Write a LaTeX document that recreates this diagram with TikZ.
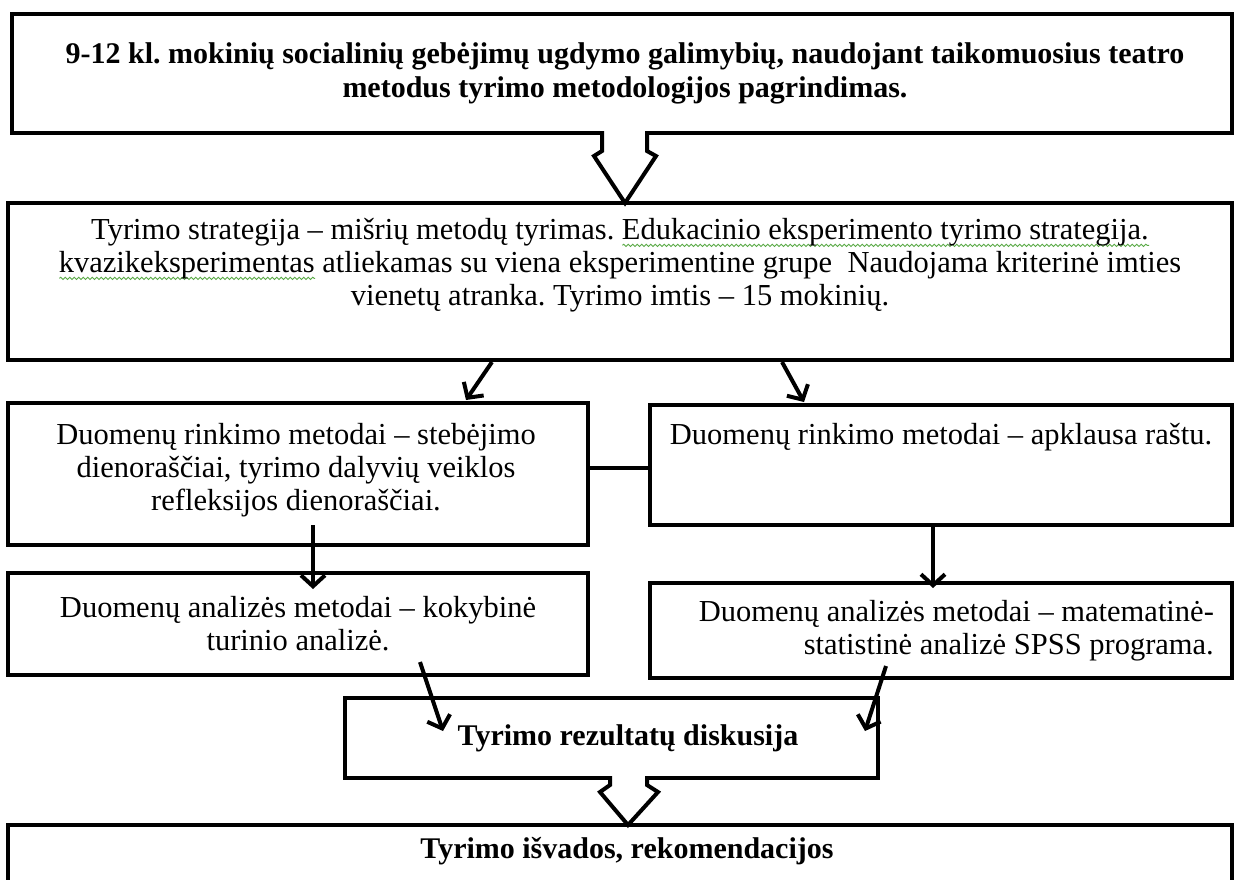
\documentclass[tikz,border=0pt]{standalone}
\usepackage{fontspec}
\setmainfont{Liberation Serif}
\usetikzlibrary{arrows.meta,calc,decorations.pathmorphing}

\definecolor{spellgreen}{RGB}{90,170,70}
\tikzset{
  box/.style={draw, line width=4pt, inner sep=0pt, outer sep=0pt, anchor=north west, fill=white},
  txt/.style={font=\fontsize{30.5}{33}\selectfont, align=center, inner sep=0pt},
  btxt/.style={txt, font=\fontsize{30}{34}\selectfont\bfseries},
  arr/.style={line width=4pt, -{Straight Barb[length=11pt,width=24pt,line width=4pt]}},
  link/.style={line width=4pt},
  blockarrow/.style={line width=4pt, line join=miter},
  spellwave/.style={decorate, decoration={snake, amplitude=1.1pt, segment length=4.5pt}, draw=spellgreen, line width=0.9pt}
}

% wavy green underline drawn under a phrase
\newsavebox\spellbox
\newlength\spellwd
\newcommand\spellmark[1]{\sbox\spellbox{#1}\setlength\spellwd{\wd\spellbox}%
  \rlap{\tikz[baseline=0pt]\draw[spellwave] (0pt,-6pt) -- (\spellwd,-6pt);}#1}

\frenchspacing
\begin{document}
\begin{tikzpicture}[x=1pt, y=-1pt]
  \fill[white] (0,0) rectangle (1238,879);
  \useasboundingbox (0,0) rectangle (1238,879);
  \clip (0,0) rectangle (1238,879);

  % boxes
  \node[box, minimum width=1220pt, minimum height=119pt] (b1) at (12,14) {};
  \node[box, minimum width=1224pt, minimum height=157pt] (b2) at (8,203) {};
  \node[box, minimum width=580pt, minimum height=142pt] (b3l) at (8,403) {};
  \node[box, minimum width=582pt, minimum height=120pt] (b3r) at (650,405) {};
  \node[box, minimum width=580pt, minimum height=102pt] (b4l) at (8,573) {};
  \node[box, minimum width=582pt, minimum height=95pt] (b4r) at (650,583) {};
  \node[box, minimum width=533pt, minimum height=80pt] (b5) at (345,698) {};
  \node[box, minimum width=1224pt, minimum height=100pt] (b6) at (8,825) {};

  % texts
  \node[btxt] (t1) at (625,73) {9-12 kl. mokinių socialinių gebėjimų ugdymo galimybių, naudojant taikomuosius teatro\\metodus tyrimo metodologijos pagrindimas.};
  \node[txt] (t2) at (620,265) {Tyrimo strategija – mišrių metodų tyrimas. \spellmark{Edukacinio eksperimento tyrimo strategija.}\\\spellmark{kvazikeksperimentas} atliekamas su viena eksperimentine grupe\ \ Naudojama kriterinė imties\\vienetų atranka. Tyrimo imtis – 15 mokinių.};
  \node[txt] (t3l) at (296,470) {Duomenų rinkimo metodai – stebėjimo\\dienoraščiai, tyrimo dalyvių veiklos\\refleksijos dienoraščiai.};
  \node[txt] (t3r) at (941,437) {Duomenų rinkimo metodai – apklausa raštu.};
  \node[txt] (t4l) at (298,624) {Duomenų analizės metodai – kokybinė\\turinio analizė.};
  \node[txt, align=right, anchor=east] (t4r) at (1214,631) {Duomenų analizės metodai – matematinė-\\statistinė analizė SPSS programa.};
  \node[btxt] (t5) at (628,738) {Tyrimo rezultatų diskusija};
  \node[btxt] (t6) at (627,851) {Tyrimo išvados, rekomendacijos};

  % link between the two collection boxes
  \draw[link] ($(b3l.north east)+(0,65)$) coordinate (m) -- (m -| b3r.west);

  % arrows
  \draw[arr] ($(b2.south west)+(484,2)$) -- ($(b3l.north west)+(458,-3)$);
  \draw[arr] ($(b2.south west)+(774,2)$) -- ($(b3r.north west)+(154,-3)$);
  \draw[arr] ($(b3l.south west)+(305,-20)$) -- ($(b4l.north west)+(305,16)$);
  \draw[arr] ($(b3r.south west)+(283,0)$) -- ($(b4r.north west)+(283,5)$);
  \draw[arr] ($(b4l.south west)+(412,-13)$) -- ($(b5.north west)+(98,33)$);
  \draw[arr] ($(b4r.south west)+(236,-12)$) -- ($(b5.north west)+(520,33)$);

  % block arrow from the top box
  \fill[white] (602,131) -- (602,151) -- (594,156) -- (625,203) -- (656,156) -- (647,151) -- (647,131) -- cycle;
  \draw[blockarrow] (602,131) -- (602,151) -- (594,156) -- (625,203) -- (656,156) -- (647,151) -- (647,131);

  % block arrow to the conclusions box
  \fill[white] (610,776) -- (610,785) -- (600,792) -- (628,825) -- (658,792) -- (647,785) -- (647,776) -- cycle;
  \draw[blockarrow] (610,776) -- (610,785) -- (600,792) -- (628,825) -- (658,792) -- (647,785) -- (647,776);
\end{tikzpicture}
\end{document}
